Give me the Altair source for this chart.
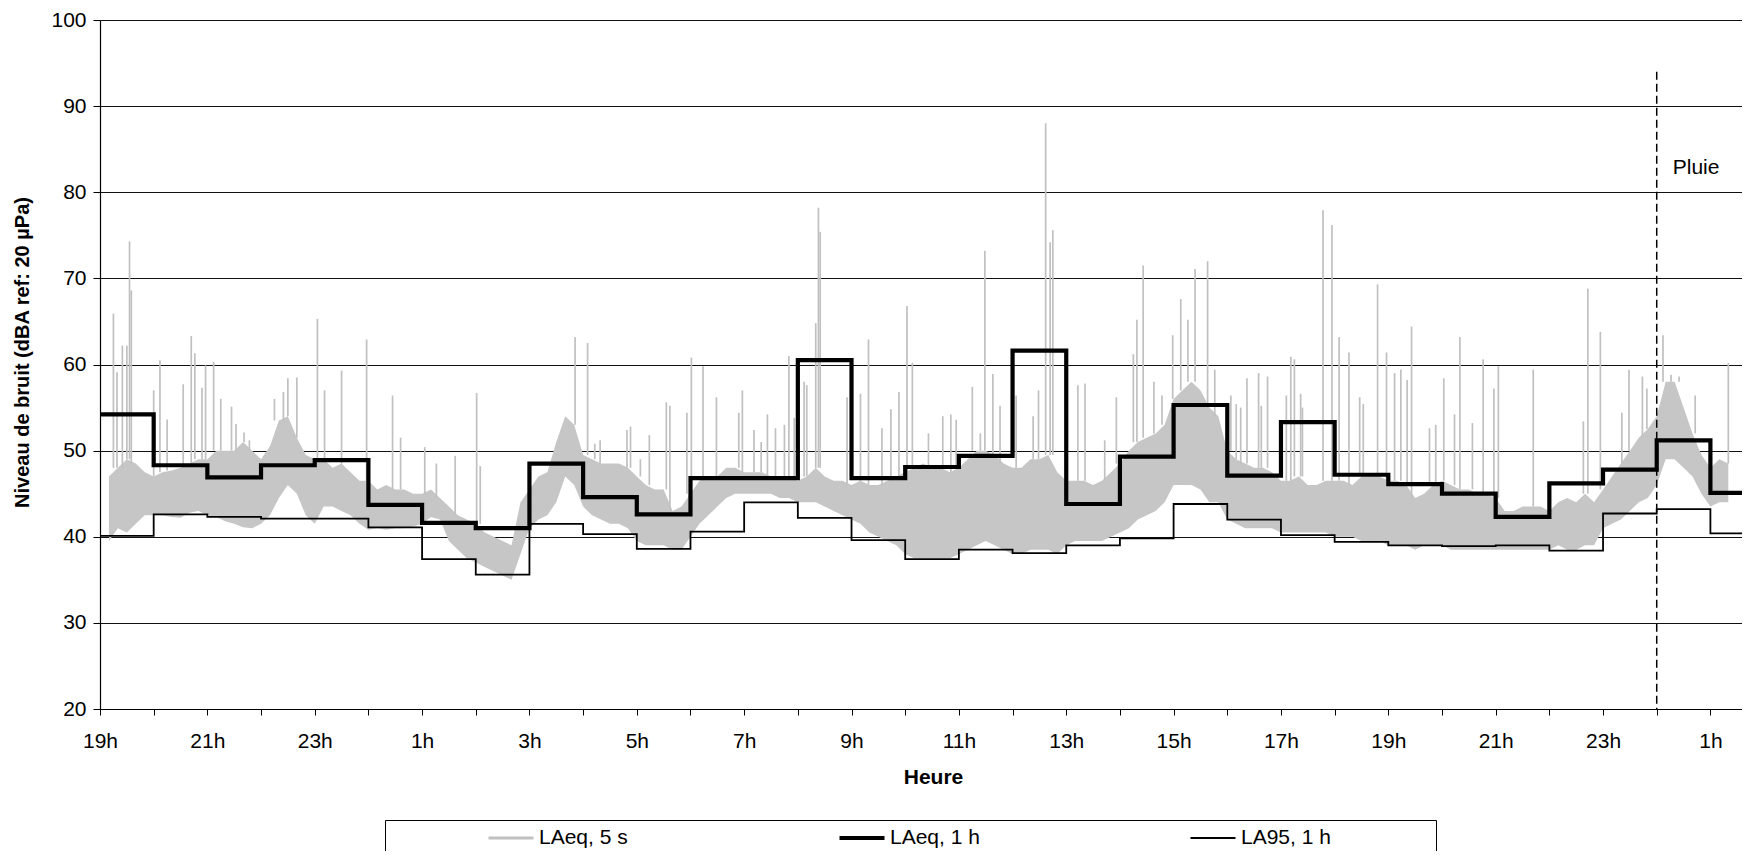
import altair as alt
import pandas as pd

# ---------------- data ----------------
# hour ticks: offset 0 = 19h (day 1) ... offset 30 = 1h (day 3)
tick_labels = ["19h", "", "21h", "", "23h", "", "1h", "", "3h", "", "5h", "",
               "7h", "", "9h", "", "11h", "", "13h", "", "15h", "", "17h", "",
               "19h", "", "21h", "", "23h", "", "1h", ""]

# hourly LAeq (thick) and LA95 (thin), one value per hour from 19h
laeq_1h = [54.2, 48.3, 46.9, 48.3, 48.9, 43.7, 41.6, 41.0, 48.5, 44.6,
           42.6, 46.8, 46.8, 60.5, 46.8, 48.1, 49.4, 61.6, 43.8, 49.3,
           55.3, 47.1, 53.3, 47.2, 46.1, 45.0, 42.3, 46.2, 47.8, 51.2, 45.1]
la95_1h = [40.1, 42.6, 42.3, 42.1, 42.1, 41.1, 37.4, 35.6, 41.5, 40.3,
           38.6, 40.6, 44.0, 42.2, 39.6, 37.4, 38.5, 38.1, 39.0, 39.8,
           43.8, 42.0, 40.2, 39.4, 39.0, 38.9, 39.0, 38.4, 42.7, 43.2, 40.4]

# LAeq 5 s: dense band, lower / upper edge read every 10 minutes from 19h10
band_start_min = 10
band_step_min = 10
band_low = [39.5, 41, 40.5, 41.5, 42.5, 42.5,
            42.5, 42.3, 42.2, 42.8, 43, 42.5,
            42.3, 41.8, 41.5, 41.1, 41, 41.5,
            42.5, 44.5, 46, 45, 42.5, 41.5,
            43.5, 43.5, 43, 42.5, 41.5, 40.8,
            41, 40.8, 41, 41, 41.2, 41.5,
            42.3, 42, 39.5, 38.5, 37.5, 37,
            36.5, 36, 35.5, 35, 38, 41,
            42, 42.5, 44, 47, 46, 43.5,
            42.5, 42, 41.5, 41.5, 41, 39.5,
            39, 39, 39, 38.5, 38.5, 40,
            41.5, 42.5, 43.5, 44.5, 45, 45,
            45, 45, 45, 44.5, 44.5, 44,
            44, 44, 43.5, 43, 42.5, 42,
            41.5, 40.5, 40, 39.5, 39, 38,
            37.5, 37.5, 37.5, 37.5, 37.5, 38,
            38.5, 39, 39.5, 39, 38.5, 38,
            38, 38.5, 38.5, 38.5, 38, 39,
            39.5, 39.5, 39.5, 39.5, 40, 40.5,
            41, 42, 42.5, 43, 44, 46,
            46, 46, 45.5, 44, 44, 42,
            41.5, 41, 41, 41, 41, 40.5,
            40.5, 40.5, 40.5, 40.5, 40.5, 40,
            40, 40, 39.5, 39.5, 39.5, 39,
            39, 39, 38.5, 39, 39, 39,
            38.5, 38.5, 38.5, 38.5, 38.5, 38.5,
            38.5, 38.5, 38.5, 38.5, 38.5, 38.5,
            39, 38.5, 38.5, 39, 39, 41,
            41.5, 42, 43, 44, 44.5, 46,
            49, 49, 48, 47, 45, 43.5,
            44, 44]
band_high = [47, 48, 49, 48.5, 47.5, 47,
             47.5, 47.7, 48, 48.5, 49, 49,
             50, 50, 50, 51, 50, 49,
             50.5, 53.5, 54, 51.5, 49.5, 49,
             49, 48, 48.5, 47.5, 46.5, 46.5,
             45.5, 46, 45.5, 45.5, 45, 45,
             45.5, 44.5, 43.5, 42.5, 42, 41.5,
             40.5, 40, 39.5, 39, 44, 45.5,
             47, 47.5, 51, 54, 53, 49.5,
             49, 48.5, 48.5, 48.5, 48, 47,
             46, 45.5, 45.5, 43, 43.5, 45,
             46.5, 47, 47, 48, 48, 47.5,
             47.5, 47.5, 47, 47, 47, 46.5,
             47, 48, 47, 46.5, 46.5, 46,
             46.5, 46, 46, 46.5, 47, 47.5,
             48, 48.5, 48, 48, 47.5, 48,
             49, 50, 50, 49.5, 48.5, 48,
             48, 49, 49, 49.5, 47.5, 46.5,
             46.5, 46.5, 46, 46.5, 47.5, 48.5,
             50, 51, 51.5, 52, 53, 56,
             57, 58, 57, 55, 54, 50,
             49, 48.5, 48, 48, 47.5, 46.5,
             46.5, 47, 46, 46, 46.5, 46.5,
             46.5, 46, 47, 47, 47, 46.5,
             46.5, 46, 44.5, 45, 46, 46.5,
             46, 45.5, 45.5, 45, 45, 44.5,
             43, 43, 43.5, 43.5, 43.5, 43,
             44, 44.5, 44, 45, 44, 45.5,
             47, 48.5, 50, 51.5, 52.5, 54,
             58, 58, 55, 52, 49.5, 48,
             49, 48.5]

# LAeq 5 s: isolated peaks (minutes after 19h, dBA)
peak_min = [15, 19, 25, 30, 33, 35, 60, 67, 75, 93, 102, 106, 114, 118, 127, 135,
            147, 152, 161, 167, 195, 205, 210, 220, 243, 251, 270, 298,
            327, 336, 363, 376, 397, 421, 425, 531, 545, 553, 559, 589, 593, 604, 614,
            633, 637, 656, 661, 674, 689, 714, 718, 731, 739, 746, 755, 765, 770, 776,
            787, 790, 800, 803, 805, 835, 850, 859, 874, 884, 893, 902, 908, 926, 942,
            951, 957, 975, 984, 989, 998, 1006, 1024, 1043, 1049, 1057, 1062, 1065, 1093,
            1101, 1123, 1136, 1155, 1159, 1166, 1178, 1187, 1199, 1208, 1216, 1224, 1238,
            1246, 1264, 1270, 1275, 1282, 1295, 1298, 1305, 1326, 1331, 1335, 1342, 1344,
            1367, 1377, 1385, 1396, 1408, 1412, 1428, 1438, 1447, 1454, 1461, 1466, 1486,
            1493, 1502, 1514, 1520, 1534, 1546, 1558, 1563,
            1602, 1658, 1663, 1677, 1701, 1709, 1724, 1729, 1747, 1756, 1765, 1783, 1820]
peak_db = [65.9, 59.1, 62.2, 62.2, 74.3, 68.6, 57.0, 60.5, 53.6, 57.7, 63.3, 61.3, 57.3, 59.9, 60.3, 56.0,
           55.1, 53.1, 52.1, 51.2, 56.0, 56.8, 58.4, 58.5, 65.3, 57.0, 59.3, 62.9,
           56.4, 51.5, 50.4, 48.5, 49.4, 56.7, 48.2, 63.2, 62.5, 50.8, 51.2, 52.4, 52.8, 49, 51.8,
           55.6, 55.2, 54.4, 60.8, 59.8, 56.2, 54.4, 57, 52.4, 51, 54.2, 52.6, 53, 61, 53.8,
           58, 57.6, 64.8, 78.2, 75.4, 56.2, 56.6, 62.9, 52.6, 54.8, 56.8, 66.8, 60.2, 52, 54,
           54.2, 53.6, 57.4, 52, 73.2, 58.9, 55.2, 56.4, 54, 57, 88, 74.2, 75.6, 57.6,
           57.8, 51.2, 56.2, 61.2, 65.2, 71.5, 58, 56.4, 63.4, 67.6, 65.2, 71.1, 72.0,
           59.4, 56.4, 55.4, 55, 58.4, 59, 55.2, 58.6, 56.4, 60.9, 60.6, 56.6, 55,
           77.9, 76.2, 63.2, 61.4, 56.2, 55.4, 69.3, 61.4, 59, 59.4, 58.2, 64.4, 52.6,
           53, 58.4, 54.2, 63.2, 53.2, 60.6, 57.2, 59.8,
           59.4, 53.4, 68.8, 63.8, 54.4, 59.4, 58.6, 57.2, 63.4, 58.8, 58.6, 56.4, 60.2]

series_names = ["LAeq, 5 s", "LAeq, 1 h", "LA95, 1 h"]          # legend order
scale_order = ["LA95, 1 h", "LAeq, 5 s", "LAeq, 1 h"]           # thin -> thick
scale_colors = ["#000000", "#c0c0c0", "#000000"]
scale_widths = [1.8, 4.2]

rain_hour = 29          # midnight, day 2 -> 3
rain_top = 94
rain_label = "Pluie"
rain_label_y = 82.8

# ---------------- layout ----------------
plot_w = 1642
plot_h = 689
px_per_hour = 53.68
x_end = plot_w / px_per_hour

# ---------------- tables ----------------
band_t = [(band_start_min + i * band_step_min) for i in range(len(band_low))]
band_df = pd.DataFrame({"t": [m / 60 for m in band_t], "lo": band_low, "hi": band_high})
hi_lookup = dict(zip(band_t, band_high))
peaks_df = pd.DataFrame({
    "t": [m / 60 for m in peak_min],
    "pic": peak_db,
    "base": [hi_lookup[min(max(int(round(m / 10.0)) * 10, band_t[0]), band_t[-1])] for m in peak_min],
    "serie": series_names[0],
})
steps_rows = []
for name, vals in ((series_names[1], laeq_1h), (series_names[2], la95_1h)):
    for i, v in enumerate(vals):
        steps_rows.append({"t": i, "v": v, "serie": name})
    steps_rows.append({"t": x_end, "v": vals[-1], "serie": name})
steps_df = pd.DataFrame(steps_rows)

# ---------------- scales / axes ----------------
x_scale = alt.Scale(domain=[0, x_end], nice=False, zero=False)
y_scale = alt.Scale(domain=[20, 100], nice=False, zero=False)

label_array = "[" + ",".join("'%s'" % s for s in tick_labels) + "]"
x_axis = alt.Axis(values=list(range(31)), labelExpr=label_array + "[datum.value]",
                  grid=False, tickSize=6, tickColor="black", tickWidth=1,
                  domainColor="black", domainWidth=1.2,
                  labelFontSize=21, labelColor="black", labelBaseline="middle",
                  labelPadding=26, labelFlush=False, labelOverlap=False,
                  title="Heure", titleFontSize=21, titleFontWeight="bold", titleColor="black",
                  titleX=833, titleY=68, titleBaseline="middle", titleAnchor="start", titleAlign="center")
y_axis = alt.Axis(values=list(range(20, 101, 10)), grid=True, gridColor="#111111", gridWidth=1,
                  tickSize=7, tickColor="black", domainColor="black", domainWidth=1.2,
                  labelFontSize=21, labelColor="black", labelPadding=7,
                  title="Niveau de bruit (dBA ref: 20 µPa)", titleFontSize=20,
                  titleFontWeight="bold", titleColor="black",
                  titleX=-78, titleY=332, titleBaseline="middle", titleAngle=270,
                  titleAnchor="start", titleAlign="center")

spacer = "\u00a0" * 18 + "\u200b"
legend = alt.Legend(title=None, orient="none", legendX=285, legendY=800,
                    values=series_names,
                    direction="horizontal", columns=3, gridAlign="all",
                    symbolType="stroke", symbolSize=2025, symbolOffset=101,
                    labelOffset=3, columnPadding=2, padding=0, clipHeight=36,
                    strokeColor="black", labelFontSize=21, labelColor="black",
                    labelLimit=400,
                    labelExpr="datum.label == 'LA95, 1 h' ? datum.label + '" + spacer + "' : datum.label")
color_enc = alt.Color("serie:N", scale=alt.Scale(domain=scale_order, range=scale_colors), legend=legend)
width_enc = alt.StrokeWidth("serie:N", scale=alt.Scale(domain=scale_order, range=scale_widths), legend=legend)

# ---------------- layers ----------------
band = alt.Chart(band_df).mark_area(color="#c6c6c6", interpolate="linear").encode(
    x=alt.X("t:Q", scale=x_scale, axis=x_axis),
    y=alt.Y("lo:Q", scale=y_scale, axis=y_axis),
    y2="hi:Q",
)
peaks = alt.Chart(peaks_df).mark_rule(strokeWidth=1.7).encode(
    x="t:Q", y="pic:Q", y2="base:Q", color=color_enc,
)
steps = alt.Chart(steps_df).mark_line(interpolate="step-after").encode(
    x="t:Q", y="v:Q", color=color_enc, strokeWidth=width_enc,
)
rain_rule = alt.Chart(pd.DataFrame({"t": [rain_hour]})).mark_rule(
    color="black", strokeDash=[8, 4], strokeWidth=1.5).encode(
    x="t:Q", y=alt.datum(rain_top), y2=alt.datum(20))
rain_text = alt.Chart(pd.DataFrame({"t": [rain_hour], "v": [rain_label_y], "txt": [rain_label]})).mark_text(
    align="left", baseline="middle", dx=16, fontSize=21, color="black").encode(
    x="t:Q", y="v:Q", text="txt:N")

chart = alt.layer(band, peaks, steps, rain_rule, rain_text).properties(
    width=plot_w, height=plot_h,
    autosize=alt.AutoSizeParams(type="none"),
    padding={"left": 92, "top": 12, "right": 0, "bottom": 142},
).configure(font="Liberation Sans").configure_view(stroke=None)

chart.save("out.html", embed_options={"renderer": "svg", "actions": False})
